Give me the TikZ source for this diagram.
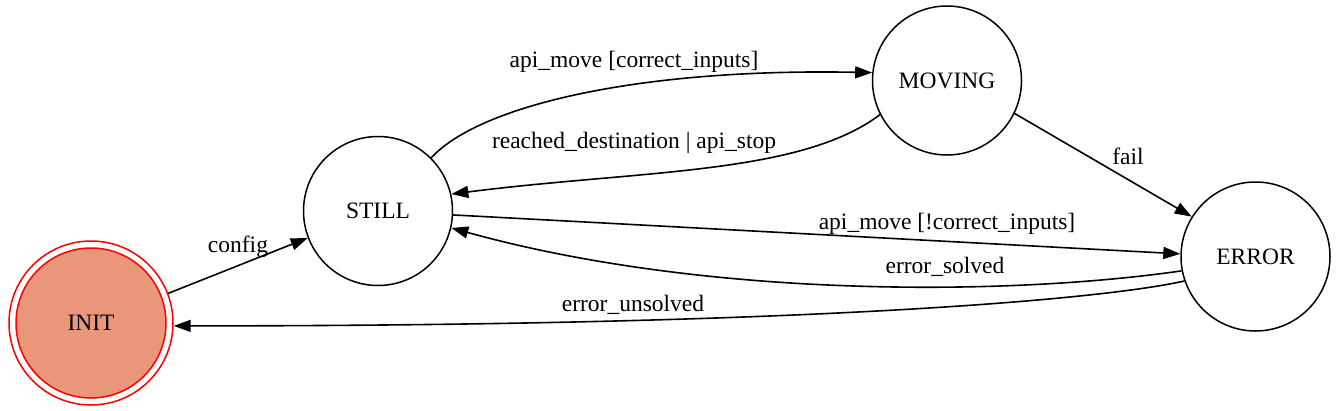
\documentclass[tikz,border=0pt]{standalone}
\usepackage{fontspec}
\setmainfont{Liberation Serif}
\usetikzlibrary{arrows.meta}
\definecolor{initfill}{RGB}{233,150,122}
\begin{document}
\begin{tikzpicture}[x=1pt,y=-1pt,
  state/.style={circle,draw,line width=1.5pt,minimum size=149pt,inner sep=0pt,font=\fontsize{23.5}{27}\selectfont},
  lbl/.style={anchor=base,inner sep=0pt,font=\fontsize{23.5}{27}\selectfont},
  edge/.style={line width=1.6pt,-{Triangle[length=17pt,width=12pt]}}]
\useasboundingbox (0,0) rectangle (1339,410);
\node[state] (STILL) at (378,211) {STILL};
\node[state] (MOVING) at (947,80.5) {MOVING};
\node[state] (ERROR) at (1255.5,256.5) {ERROR};
\node[circle,draw=red,line width=1.5pt,minimum size=164pt,inner sep=0pt] (INIT) at (91,323) {};
\node[state,draw=red,fill=initfill,minimum size=150pt] (INITin) at (INIT) {INIT};

\draw[edge] (INIT.21) -- (STILL.201);
\draw[edge] (STILL.45) .. controls (480,105) and (640,68) .. (MOVING.174);
\draw[edge] (MOVING.207) .. controls (800,175) and (640,170) .. (STILL.13);
\draw[edge] (MOVING.334) -- (ERROR.148);
\draw[edge] (STILL.357) -- (ERROR.178);
\draw[edge] (ERROR.191) .. controls (1000,297) and (700,297) .. (STILL.347);
\draw[edge] (ERROR.199) .. controls (1100,300) and (800,326) .. (INIT.358);

\node[lbl] (lconfig) at (238,252) {config};
\node[lbl] (lmove) at (634,67) {api\_move [correct\_inputs]};
\node[lbl] (lreach) at (634,148) {reached\_destination | api\_stop};
\node[lbl] (lfail) at (1128,164) {fail};
\node[lbl] (lnot) at (947,229) {api\_move [!correct\_inputs]};
\node[lbl] (lsolved) at (945,273) {error\_solved};
\node[lbl] (lunsolved) at (633,311) {error\_unsolved};
\end{tikzpicture}
\end{document}
